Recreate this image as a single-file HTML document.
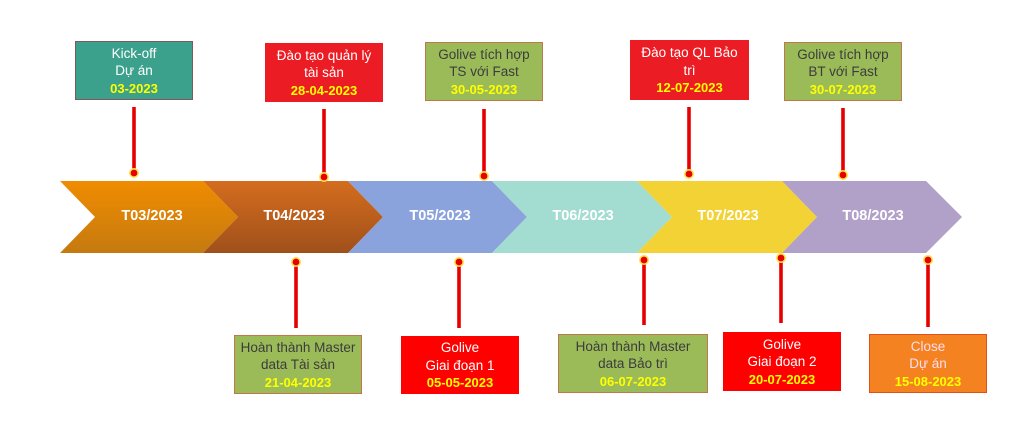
<!DOCTYPE html>
<html><head><meta charset="utf-8">
<style>
html,body{margin:0;padding:0;background:#fff;}
body{width:1029px;height:436px;position:relative;overflow:hidden;font-family:"Liberation Sans",Arial,sans-serif;}
svg{position:absolute;left:0;top:0;}
.box{position:absolute;box-sizing:border-box;display:flex;flex-direction:column;justify-content:center;align-items:center;text-align:center;font-size:13.5px;line-height:17.5px;padding-top:1px;}
.d{color:#FFFF00;font-weight:bold;font-size:13px;}
.teal{background:#3BA08C;border:1px solid #7a5a5a;color:#fff;}
.red{background:#EC1C24;color:#fff;}
.red2{background:#FF0000;color:#fff;}
.green{background:#9BBB59;border:1px solid #C0784A;color:#3c3c3c;}
.orange{background:#F58220;border:1px solid #E0501A;color:#fde;}
.lbl{position:absolute;top:208px;font-weight:bold;font-size:14.5px;color:#fff;transform:translateX(-50%);white-space:nowrap;}
</style></head><body>
<svg width="1029" height="436" viewBox="0 0 1029 436">
<defs>
<linearGradient id="g1" x1="0" y1="0" x2="0" y2="1"><stop offset="0" stop-color="#F08C00"/><stop offset="1" stop-color="#C57A10"/></linearGradient>
<linearGradient id="g2" x1="0" y1="0" x2="0" y2="1"><stop offset="0" stop-color="#D46D1E"/><stop offset="1" stop-color="#A0501B"/></linearGradient>
</defs>
<polygon points="60,181 203,181 238,217 203,253 60,253 95,217" fill="url(#g1)"/>
<polygon points="203,181 348,181 383,217 348,253 203,253 238,217" fill="url(#g2)"/>
<polygon points="348,181 492,181 527,217 492,253 348,253 383,217" fill="#8BA3DC"/>
<polygon points="492,181 637,181 672,217 637,253 492,253 527,217" fill="#A3DCD0"/>
<polygon points="637,181 782,181 817,217 782,253 637,253 672,217" fill="#F3D236"/>
<polygon points="782,181 926,181 962,217 926,253 782,253 817,217" fill="#B1A0C8"/>
<g stroke="#E60000" stroke-width="3.6">
<line x1="134" y1="107" x2="134" y2="172"/>
<line x1="324" y1="109" x2="324" y2="175"/>
<line x1="484" y1="109" x2="484" y2="174"/>
<line x1="689" y1="107" x2="689" y2="172"/>
<line x1="843" y1="108" x2="843" y2="173"/>
<line x1="296" y1="262" x2="296" y2="328"/>
<line x1="459" y1="262" x2="459" y2="328"/>
<line x1="644" y1="260" x2="644" y2="325"/>
<line x1="781" y1="258" x2="781" y2="323"/>
<line x1="928" y1="260" x2="928" y2="327"/>
</g>
<g fill="#E60000" stroke="#FFE14A" stroke-width="1.6">
<circle cx="134" cy="173" r="4.2"/>
<circle cx="324" cy="177" r="4.2"/>
<circle cx="484" cy="176" r="4.2"/>
<circle cx="689" cy="174" r="4.2"/>
<circle cx="843" cy="175" r="4.2"/>
<circle cx="296" cy="262" r="4.2"/>
<circle cx="459" cy="262" r="4.2"/>
<circle cx="644" cy="260" r="4.2"/>
<circle cx="781" cy="258" r="4.2"/>
<circle cx="928" cy="260" r="4.2"/>
</g>
</svg>

<div class="lbl" style="left:152px">T03/2023</div>
<div class="lbl" style="left:294px">T04/2023</div>
<div class="lbl" style="left:440px">T05/2023</div>
<div class="lbl" style="left:583px">T06/2023</div>
<div class="lbl" style="left:728px">T07/2023</div>
<div class="lbl" style="left:873px">T08/2023</div>

<div class="box teal" style="left:75px;top:41px;width:118px;height:59px;"><div>Kick-off</div><div>Dự án</div><div class="d">03-2023</div></div>
<div class="box red" style="left:265px;top:43px;width:118px;height:59px;"><div>Đào tạo quản lý</div><div>tài sản</div><div class="d">28-04-2023</div></div>
<div class="box green" style="left:425px;top:42px;width:118px;height:59px;"><div>Golive tích hợp</div><div>TS với Fast</div><div class="d">30-05-2023</div></div>
<div class="box red" style="left:630px;top:40px;width:119px;height:60px;"><div>Đào tạo QL Bảo</div><div>trì</div><div class="d">12-07-2023</div></div>
<div class="box green" style="left:784px;top:42px;width:118px;height:59px;"><div>Golive tích hợp</div><div>BT với Fast</div><div class="d">30-07-2023</div></div>

<div class="box green" style="left:234px;top:335px;width:128px;height:59px;"><div>Hoàn thành Master</div><div>data Tài sản</div><div class="d">21-04-2023</div></div>
<div class="box red2" style="left:401px;top:336px;width:118px;height:58px;"><div>Golive</div><div>Giai đoạn 1</div><div class="d">05-05-2023</div></div>
<div class="box green" style="left:558px;top:334px;width:150px;height:59px;"><div>Hoàn thành Master</div><div>data Bảo trì</div><div class="d">06-07-2023</div></div>
<div class="box red2" style="left:723px;top:332px;width:118px;height:59px;"><div>Golive</div><div>Giai đoạn 2</div><div class="d">20-07-2023</div></div>
<div class="box orange" style="left:869px;top:334px;width:118px;height:59px;"><div>Close</div><div>Dự án</div><div class="d">15-08-2023</div></div>
</body></html>
